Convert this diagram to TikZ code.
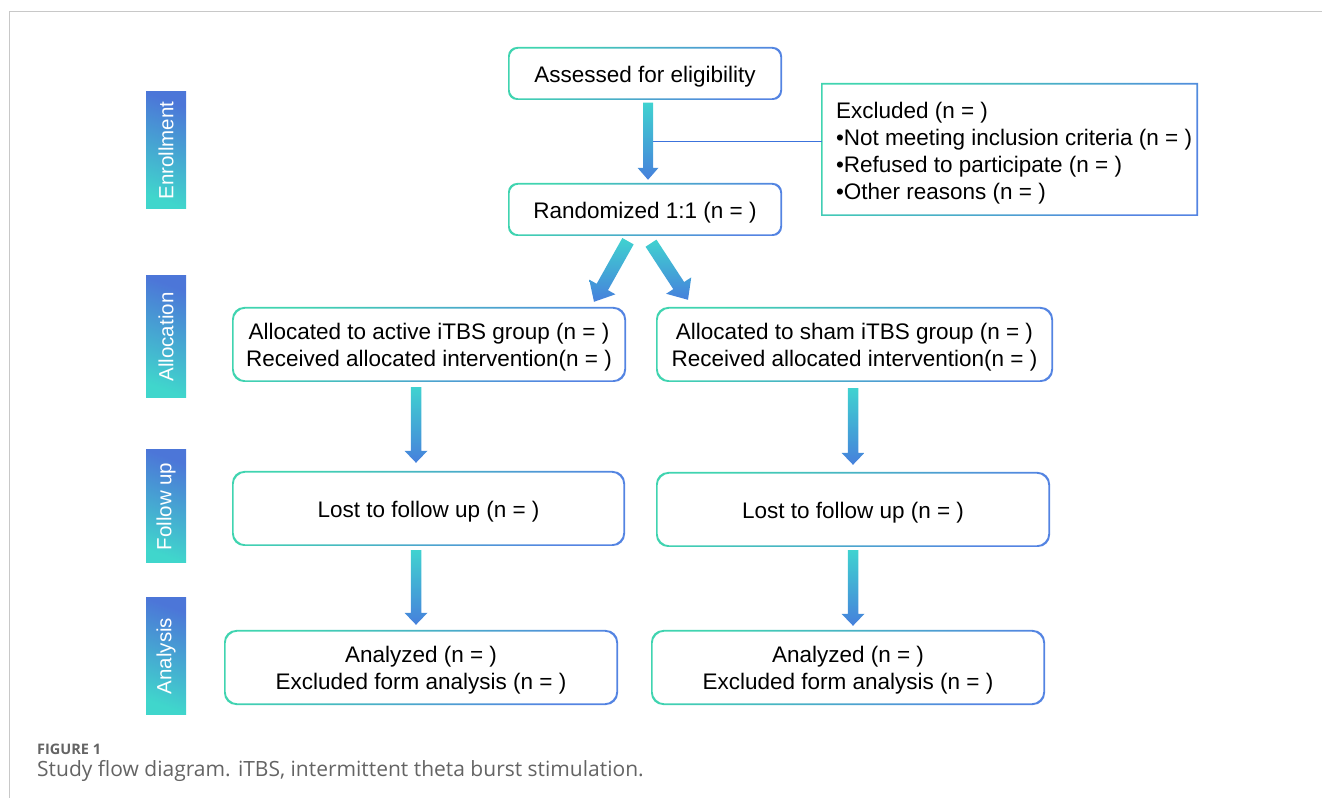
\documentclass[tikz,border=0pt]{standalone}
\usepackage{fontspec}
\setmainfont{Liberation Sans}
\newfontfamily\capfont{Open Sans}
\usetikzlibrary{calc}
\definecolor{bgreen}{RGB}{64,212,176}
\definecolor{bblue}{RGB}{84,132,226}
\definecolor{ateal}{RGB}{64,210,208}
\definecolor{ablue}{RGB}{70,128,220}
\definecolor{sblue}{RGB}{76,118,216}
\definecolor{steal}{RGB}{64,214,204}
\definecolor{lineblue}{RGB}{60,115,220}
\definecolor{framegray}{RGB}{200,200,200}
\definecolor{capgray}{RGB}{100,100,100}
% gradient border around a node
\newcommand{\gborder}[2]{%
  \shade[even odd rule, top color=bgreen, bottom color=bblue, shading angle=50, rounded corners=#2]
    ($(#1.north west)+(-0.8,0.8)$) rectangle ($(#1.south east)+(0.8,-0.8)$)
    ($(#1.north west)+(0.8,-0.8)$) rectangle ($(#1.south east)+(-0.8,0.8)$);}
% block arrow: #1 start, #2 apex, #3 half shaft, #4 half head, #5 head length
\newcommand{\blockarrow}[5]{%
  \coordinate (#1#2h) at ($(#2)!#5pt!(#1)$);
  \shade[top color=ateal, bottom color=ablue]
    ($(#1)!#3pt!90:(#2)$) -- ($(#1#2h)!#3pt!90:(#2)$) -- ($(#1#2h)!#4pt!90:(#2)$) -- (#2)
    -- ($(#1#2h)!#4pt!-90:(#2)$) -- ($(#1#2h)!#3pt!-90:(#2)$) -- ($(#1)!#3pt!-90:(#2)$) -- cycle;}
\tikzset{
  gbox/.style={inner sep=0pt, align=center, text height=22.5pt, font=\fontsize{22.5}{27}\selectfont},
  gboxtwo/.style={gbox, text height=48.5pt},
  sidetext/.style={inner sep=0pt, text=white, rotate=90, font=\fontsize{20.5}{24}\selectfont},
  exline/.style={draw=lineblue, line width=1.5pt},
}
\begin{document}
\begin{tikzpicture}[x=1pt, y=1pt]
\useasboundingbox (0,0) rectangle (1322,798);
% frame
\draw[framegray, line width=1pt] (1322,786) -- (9,786) -- (9,0);

% boxes
\node[gbox, minimum width=272, minimum height=51] (assess) at (645,724.5) {Assessed for eligibility};
\node[gbox, minimum width=272, minimum height=51] (rand) at (645,588.5) {Randomized 1:1 (n = )};
\node[inner sep=0pt, minimum width=375, minimum height=131] (exc) at (1009.5,648.5) {};
\node[inner sep=0pt, anchor=west, align=left, font=\fontsize{22.5}{27}\selectfont] (exct) at ($(exc.west)+(14,-3.5)$)
  {Excluded (n = )\\ •Not meeting inclusion criteria (n = )\\ •Refused to participate (n = )\\ •Other reasons (n = )};
\node[gboxtwo, minimum width=392, minimum height=73] (allocL) at (429,453.5) {Allocated to active iTBS group (n = )\\ Received allocated intervention(n = )};
\node[gboxtwo, minimum width=395, minimum height=73] (allocR) at (854.5,453.5) {Allocated to sham iTBS group (n = )\\ Received allocated intervention(n = )};
\node[gbox, minimum width=391, minimum height=73] (followL) at (428.5,289.5) {Lost to follow up (n = )};
\node[gbox, minimum width=392, minimum height=73] (followR) at (853,288.5) {Lost to follow up (n = )};
\node[gboxtwo, minimum width=392, minimum height=73] (analL) at (421,130.5) {Analyzed (n = )\\ Excluded form analysis (n = )};
\node[gboxtwo, minimum width=392, minimum height=73] (analR) at (848,130.5) {Analyzed (n = )\\ Excluded form analysis (n = )};

\gborder{assess}{9pt}
\gborder{rand}{9pt}
\gborder{exc}{0pt}
\gborder{allocL}{12pt}
\gborder{allocR}{12pt}
\gborder{followL}{12pt}
\gborder{followR}{12pt}
\gborder{analL}{12pt}
\gborder{analR}{12pt}

% side labels
\shade[top color=sblue, bottom color=steal, shading angle=-20] (146,706) rectangle (186,589);
\node[sidetext] (enr) at (166,647.5) {Enrollment};
\shade[top color=sblue, bottom color=steal, shading angle=-20] (146,522) rectangle (186,400);
\node[sidetext] (alc) at (166,461) {Allocation};
\shade[top color=sblue, bottom color=steal, shading angle=-20] (146,348) rectangle (186,235);
\node[sidetext] (fup) at (166,291.5) {Follow up};
\shade[top color=sblue, bottom color=steal, shading angle=-20] (146,200) rectangle (186,84);
\node[sidetext] (ana) at (166,142) {Analysis};

% connectors
\coordinate (a1s) at ($(assess.south)+(3,-3.5)$);
\coordinate (a1e) at ($(rand.north)+(3,4)$);
\coordinate (hs) at ($(assess.south)+(8,-42.5)$);
\draw[exline] (hs) -- (hs -| exc.west);
\blockarrow{a1s}{a1e}{5}{10.5}{12}

\coordinate (dLs) at ($(rand.south)+(-17,-6)$);
\coordinate (dLe) at ($(allocL.north)+(165,6)$);
\coordinate (dRs) at ($(rand.south)+(6,-8)$);
\coordinate (dRe) at ($(allocR.north)+(-166.5,8)$);
\blockarrow{dLs}{dLe}{6.5}{15}{17}
\blockarrow{dRs}{dRe}{6.5}{15}{17}

\coordinate (aL1s) at ($(allocL.south)+(-13,-6)$);
\coordinate (aL1e) at ($(followL.north)+(-12.5,9)$);
\coordinate (aL2s) at ($(followL.south)+(-12.5,-5)$);
\coordinate (aL2e) at ($(analL.north)+(-5,6)$);
\coordinate (aR1s) at ($(allocR.south)+(-1.5,-7)$);
\coordinate (aR1e) at ($(followR.north)+(0,8)$);
\coordinate (aR2s) at ($(followR.south)+(0,-4)$);
\coordinate (aR2e) at ($(analR.north)+(5,5)$);
\blockarrow{aL1s}{aL1e}{5.25}{11.5}{12}
\blockarrow{aL2s}{aL2e}{5.25}{11.5}{12}
\blockarrow{aR1s}{aR1e}{5.25}{11.5}{12}
\blockarrow{aR2s}{aR2e}{5.25}{11.5}{12}

% caption
\node[anchor=west, inner sep=0pt, text=capgray, font=\capfont\bfseries\fontsize{14.5}{17}\selectfont] (figlab) at (37,49) {FIGURE 1};
\node[anchor=west, inner sep=0pt, text=capgray, font=\capfont\fontsize{21}{25}\selectfont] (cap) at (37,27) {Study flow diagram. iTBS, intermittent theta burst stimulation.};
\end{tikzpicture}
\end{document}
